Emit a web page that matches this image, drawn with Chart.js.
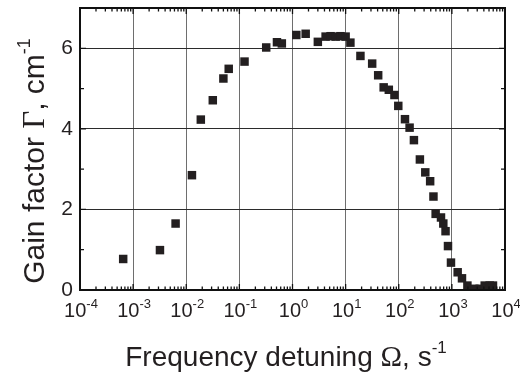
<!DOCTYPE html>
<html>
<head>
<meta charset="utf-8">
<script src="https://cdn.jsdelivr.net/npm/chart.js@4/dist/chart.umd.min.js"></script>
<style>
  html, body { margin: 0; padding: 0; background: #fff; }
</style>
</head>
<body>
<canvas id="gain" width="520" height="372"></canvas>
<script>
// detuning (s^-1) and gain factor (cm^-1)
const detuning = [6.5e-4, 3.2e-3, 6.3e-3, 0.0128, 0.0188, 0.0316, 0.050, 0.063, 0.125, 0.32,
  0.51, 0.63, 1.18, 1.77, 3.0, 4.2, 5.2, 6.5, 8.0, 10.0,
  12.3, 19, 31.6, 41, 52, 65, 83, 98, 131, 160,
  193, 250, 316, 390, 450, 495, 624, 690, 760, 845,
  962, 1285, 1550, 1960, 2650, 3340, 4150, 5150, 5940];
const gain = [0.77, 0.99, 1.65, 2.85, 4.23, 4.71, 5.25, 5.49, 5.67, 6.02,
  6.15, 6.12, 6.33, 6.36, 6.16, 6.29, 6.30, 6.29, 6.30, 6.29,
  6.14, 5.81, 5.62, 5.33, 5.03, 4.97, 4.84, 4.57, 4.24, 4.03,
  3.72, 3.24, 2.92, 2.70, 2.32, 1.89, 1.80, 1.65, 1.46, 1.09,
  0.68, 0.44, 0.29, 0.11, 0.03, 0.03, 0.11, 0.11, 0.11];

const xTicks = [1e-4, 1e-3, 1e-2, 1e-1, 1e0, 1e1, 1e2, 1e3, 1e4];
const xTickExp = ['-4', '-3', '-2', '-1', '0', '1', '2', '3', '4'];
const xMinor = [2, 3, 4, 5, 6, 7, 8, 9];
const yTicks = [0, 2, 4, 6];
const yMinor = [1, 3, 5];

const INK = '#231f20';
const SANS = 'Liberation Sans, Arial, sans-serif';
const SERIF = 'Liberation Serif, Times New Roman, serif';

// draws a run of text pieces; each piece: [text, font, raise]
function drawRun(ctx, pieces, cx, baseline) {
  let total = 0;
  pieces.forEach(p => { ctx.font = p[1]; total += ctx.measureText(p[0]).width; });
  let px = cx - total / 2;
  pieces.forEach(p => {
    ctx.font = p[1];
    ctx.fillText(p[0], px, baseline - (p[2] || 0));
    px += ctx.measureText(p[0]).width;
  });
}

const framePlugin = {
  id: 'frame',
  afterDraw(chart) {
    const { ctx, chartArea: a, scales: { x, y } } = chart;
    ctx.save();
    ctx.strokeStyle = '#111';
    ctx.lineWidth = 1.3;
    ctx.beginPath();
    // inward ticks on all four sides
    for (let i = 0; i < xTicks.length; i++) {
      const px = x.getPixelForValue(xTicks[i]);
      ctx.moveTo(px, a.bottom); ctx.lineTo(px, a.bottom - 6);
      ctx.moveTo(px, a.top); ctx.lineTo(px, a.top + 6);
      if (i === xTicks.length - 1) break;
      xMinor.forEach(m => {
        const mx = x.getPixelForValue(m * xTicks[i]);
        ctx.moveTo(mx, a.bottom); ctx.lineTo(mx, a.bottom - 3.5);
        ctx.moveTo(mx, a.top); ctx.lineTo(mx, a.top + 3.5);
      });
    }
    yTicks.forEach(v => {
      const py = y.getPixelForValue(v);
      ctx.moveTo(a.left, py); ctx.lineTo(a.left + 6, py);
      ctx.moveTo(a.right, py); ctx.lineTo(a.right - 6, py);
    });
    yMinor.forEach(v => {
      const py = y.getPixelForValue(v);
      ctx.moveTo(a.left, py); ctx.lineTo(a.left + 4, py);
      ctx.moveTo(a.right, py); ctx.lineTo(a.right - 4, py);
    });
    ctx.stroke();
    ctx.lineWidth = 2;
    ctx.strokeRect(a.left, a.top, a.width, a.height);

    // x tick labels with superscript exponents
    ctx.fillStyle = INK;
    ctx.textBaseline = 'alphabetic';
    ctx.textAlign = 'left';
    xTicks.forEach((v, i) => {
      drawRun(ctx, [['10', '20px ' + SANS], [xTickExp[i], '13px ' + SANS, 9]],
        x.getPixelForValue(v) + 1, a.bottom + 27);
    });

    // axis titles
    drawRun(ctx, [['Frequency detuning ', '28px ' + SANS], ['\u03A9', '29px ' + SERIF],
      [', s', '28px ' + SANS], ['-1', '17px ' + SANS, 13]], 286, 366);

    ctx.translate(44, 161);
    ctx.rotate(-Math.PI / 2);
    drawRun(ctx, [['Gain factor ', '30px ' + SANS], ['\u0393', '31px ' + SERIF],
      [', cm', '30px ' + SANS], ['-1', '18px ' + SANS, 14]], 0, 0);
    ctx.restore();
  }
};

const chart = new Chart(document.getElementById('gain').getContext('2d'), {
  type: 'scatter',
  data: {
    datasets: [{
      data: detuning.map((v, i) => ({ x: v, y: gain[i] })),
      pointStyle: 'rect',
      pointRadius: 6,
      pointHoverRadius: 6,
      backgroundColor: INK,
      borderWidth: 0
    }]
  },
  options: {
    responsive: false,
    animation: false,
    devicePixelRatio: 1,
    layout: { padding: { top: 8, right: 15, left: 0, bottom: 0 } },
    plugins: { legend: { display: false }, tooltip: { enabled: false } },
    scales: {
      x: {
        type: 'logarithmic',
        min: 1e-4,
        max: 1e4,
        afterBuildTicks: s => { s.ticks = xTicks.map(v => ({ value: v })); },
        afterFit: s => { s.height = 82; s.paddingLeft = 0; s.paddingRight = 0; },
        ticks: { display: false },
        grid: { color: '#6e6e6e', lineWidth: 1, drawTicks: false },
        border: { display: false }
      },
      y: {
        min: 0,
        max: 7,
        afterBuildTicks: s => { s.ticks = yTicks.map(v => ({ value: v })); },
        afterFit: s => { s.width = 80; s.paddingTop = 0; s.paddingBottom = 0; },
        ticks: { color: INK, padding: 7, font: { family: SANS, size: 21 } },
        grid: { color: '#2b2b2b', lineWidth: 1, drawTicks: false },
        border: { display: false }
      }
    }
  },
  plugins: [framePlugin]
});
</script>
</body>
</html>
